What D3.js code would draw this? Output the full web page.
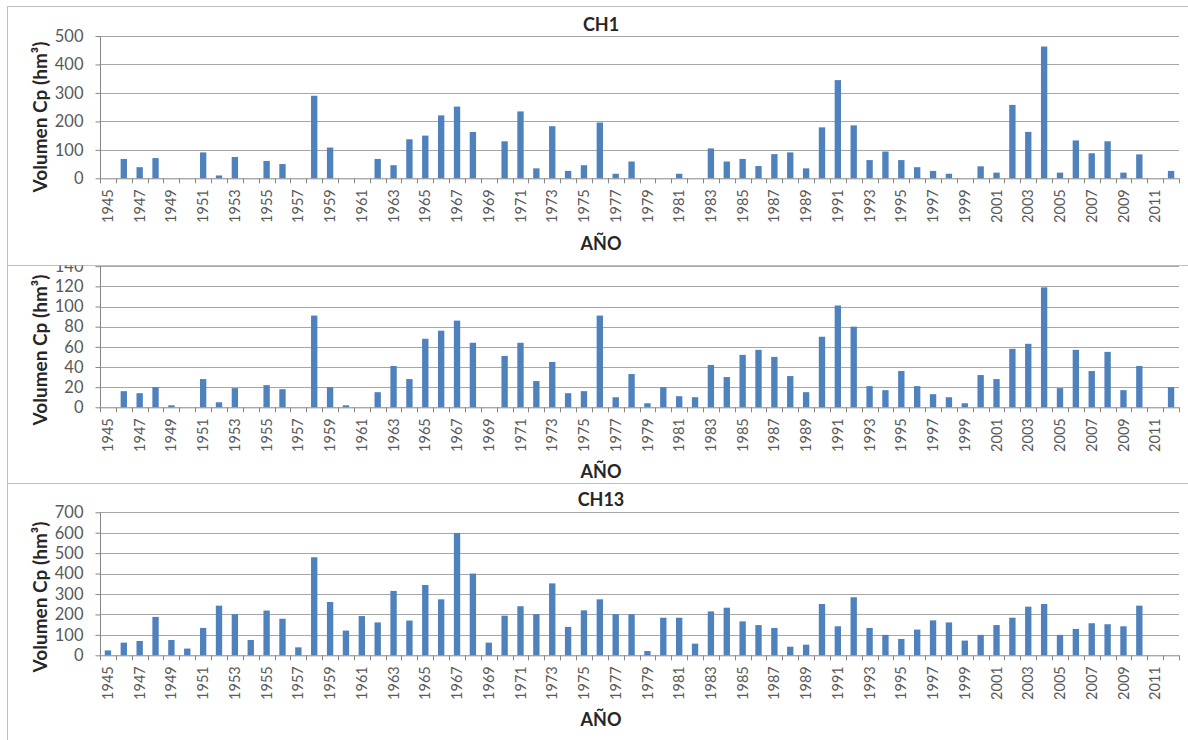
<!DOCTYPE html>
<html><head><meta charset="utf-8">
<script src="https://cdn.jsdelivr.net/npm/d3@7"></script>
<style>
body{margin:0;background:#fff}
text{font-family:Lato,"Open Sans",sans-serif}
</style>
</head><body>
<svg id="c" width="1188" height="740"></svg>
<script>
const years = [1945,1946,1947,1948,1949,1950,1951,1952,1953,1954,1955,1956,1957,1958,1959,1960,1961,1962,1963,1964,
1965,1966,1967,1968,1969,1970,1971,1972,1973,1974,1975,1976,1977,1978,1979,1980,1981,1982,1983,1984,1985,1986,1987,1988,
1989,1990,1991,1992,1993,1994,1995,1996,1997,1998,1999,2000,2001,2002,2003,2004,2005,2006,2007,2008,2009,2010,2011,2012];

const ch1 = [0,68,39,71,0,0,91,10,75,0,61,50,0,290,108,0,0,68,46,137,
150,221,252,163,0,130,235,35,183,26,46,196,16,59,0,0,16,0,105,59,68,43,85,91,
35,179,345,186,64,94,64,39,26,16,0,42,20,258,163,463,20,133,88,130,20,84,0,26];

const chMid = [0,16,14,20,2,0,28,5,19,0,22,18,0,91,20,2,0,15,41,28,
68,76,86,64,0,51,64,26,45,14,16,91,10,33,4,20,11,10,42,30,52,57,50,31,
15,70,101,80,21,17,36,21,13,10,4,32,28,58,63,119,19,57,36,55,17,41,0,20];

const ch13 = [24,62,70,188,75,33,134,243,201,75,219,179,39,480,261,121,192,161,315,170,
344,274,599,400,62,194,240,201,352,139,220,274,201,201,21,184,184,57,215,233,166,148,134,42,
52,251,142,284,134,100,80,126,171,161,72,100,148,184,238,251,100,129,157,152,142,243,0,0];

const ticks1 = [0,100,200,300,400,500];
const ticksMid = [0,20,40,60,80,100,120,140];
const ticks13 = [0,100,200,300,400,500,600,700];

const titles = ["CH1", "", "CH13"];
const yTitle = "Volumen Cp (hm\u00B3)";
const xTitle = "A\u00D1O";

const panels = [
  {title:titles[0], values:ch1, ticks:ticks1, max:500, y0:178.3, yTop:36, boxTop:6, boxBot:265, ylab:117, xlab:244, tY:25, clip:0},
  {title:titles[1], values:chMid, ticks:ticksMid, max:140, y0:407.3, yTop:266.2, boxTop:265, boxBot:483, ylab:350, xlab:472, tY:0, clip:265.5},
  {title:titles[2], values:ch13, ticks:ticks13, max:700, y0:655.3, yTop:512.3, boxTop:483, boxBot:760, ylab:597, xlab:720, tY:500, clip:0}
];

const svg = d3.select("#c");
const x = d3.scaleBand().domain(years).range([100, 1179]).padding(0);
const barW = x.bandwidth() * 0.4;
const gridC = "#a6a6a6", axisC = "#868686", txtC = "#595959", blue = "#4F81BD";

panels.forEach((p, pi) => {
  svg.append("rect").attr("x", 7.5).attr("y", p.boxTop + 0.5).attr("width", 1200).attr("height", p.boxBot - p.boxTop)
     .attr("fill", "none").attr("stroke", "#bfbfbf").attr("stroke-width", 1);

  const clipId = "clip" + pi;
  svg.append("clipPath").attr("id", clipId).append("rect")
     .attr("x", 8).attr("y", p.clip ? p.clip : p.boxTop + 1).attr("width", 1200).attr("height", p.boxBot - (p.clip ? p.clip : p.boxTop + 1));
  const g = svg.append("g").attr("clip-path", `url(#${clipId})`);

  const y = d3.scaleLinear().domain([0, p.max]).range([p.y0, p.yTop]);

  g.append("g").selectAll("line").data(p.ticks.filter(t => t > 0)).join("line")
    .attr("x1", 100).attr("x2", 1179)
    .attr("y1", d => Math.round(y(d)) + 0.5).attr("y2", d => Math.round(y(d)) + 0.5)
    .attr("stroke", gridC).attr("stroke-width", 1.2);

  const ya = d3.axisLeft(y).tickValues(p.ticks).tickSize(5).tickPadding(12);
  const yg = g.append("g").attr("transform", "translate(100.5,0)").call(ya);
  yg.select(".domain").attr("stroke", axisC).attr("d", `M-0,${p.y0}V${p.yTop}`);
  yg.selectAll(".tick line").attr("stroke", axisC);
  yg.selectAll(".tick text").attr("fill", txtC).style("font-size", "16.5px").style("font-family", "Lato");

  g.append("g").selectAll("rect").data(years.map((yr, i) => ({yr, v: p.values[i]}))).join("rect")
    .attr("x", d => x(d.yr) + (x.bandwidth() - barW) / 2)
    .attr("width", barW)
    .attr("y", d => y(d.v))
    .attr("height", d => y(0) - y(d.v))
    .attr("fill", blue);

  g.append("line").attr("x1", 100).attr("x2", 1179).attr("y1", p.y0 + 0.5).attr("y2", p.y0 + 0.5)
    .attr("stroke", axisC).attr("stroke-width", 1);
  const bounds = years.map(yr => x(yr)).concat([1179]);
  g.append("g").selectAll("line").data(bounds).join("line")
    .attr("x1", d => Math.round(d) + 0.5).attr("x2", d => Math.round(d) + 0.5)
    .attr("y1", p.y0).attr("y2", p.y0 + 5).attr("stroke", axisC);

  g.append("g").selectAll("text").data(years.filter((yr, i) => i % 2 === 0)).join("text")
    .attr("transform", d => `translate(${x(d) + x.bandwidth() / 2},${p.y0 + 11}) rotate(-90)`)
    .attr("text-anchor", "end").attr("dy", "0.35em")
    .attr("fill", txtC).style("font-size", "14.5px")
    .text(d => d);

  g.append("text").attr("transform", `translate(40,${p.ylab}) rotate(-90)`)
    .attr("text-anchor", "middle").attr("dy", "0.35em")
    .attr("fill", "#262626").style("font-size", "19px").style("font-weight", "bold")
    .text(yTitle);
  g.append("text").attr("x", 601).attr("y", p.xlab).attr("dy", "0.35em")
    .attr("text-anchor", "middle").attr("fill", "#262626")
    .style("font-size", "18px").style("font-weight", "bold").text(xTitle);

  if (p.title) {
    g.append("text").attr("x", 601).attr("y", p.tY).attr("dy", "0.35em")
      .attr("text-anchor", "middle").attr("fill", "#262626")
      .style("font-size", "18px").style("font-weight", "bold").text(p.title);
  }
});
</script>
</body></html>
